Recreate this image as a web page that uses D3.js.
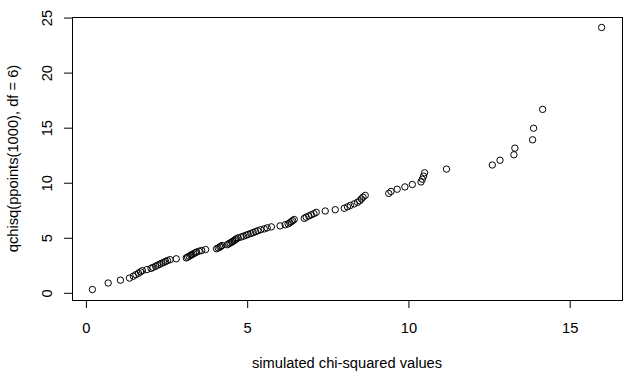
<!DOCTYPE html>
<html>
<head>
<meta charset="utf-8">
<script src="https://cdn.jsdelivr.net/npm/d3@7"></script>
<style>
  body { margin: 0; background: #fff; }
  text { font-family: "Liberation Sans", Arial, sans-serif; fill: #000; }
</style>
</head>
<body>
<div id="plot"></div>
<script>
// sorted simulated values (x) against qchisq(ppoints(1000), df = 6) (y)
var simulated = [
  0.20, 0.69, 1.07, 1.35, 1.47, 1.55, 1.63, 1.69, 1.75, 1.89,
  2.02, 2.08, 2.16, 2.22, 2.28, 2.34, 2.41, 2.47, 2.53, 2.61,
  2.80, 3.11, 3.15, 3.20, 3.25, 3.29, 3.34, 3.39, 3.43, 3.51,
  3.59, 3.71, 4.05, 4.10, 4.15, 4.18, 4.22, 4.38, 4.43, 4.47,
  4.52, 4.55, 4.60, 4.63, 4.67, 4.72, 4.81, 4.89, 4.97, 5.03,
  5.11, 5.19, 5.26, 5.33, 5.42, 5.53, 5.62, 5.75, 6.02, 6.18,
  6.27, 6.32, 6.37, 6.41, 6.46, 6.77, 6.83, 6.91, 6.99, 7.07,
  7.14, 7.42, 7.73, 8.01, 8.11, 8.20, 8.32, 8.42, 8.49, 8.54,
  8.59, 8.66, 9.39, 9.46, 9.65, 9.89, 10.12, 10.39, 10.43, 10.47,
  10.50, 11.18, 12.60, 12.84, 13.27, 13.30, 13.85, 13.88, 14.16, 15.99
];
var theoretical = [
  0.30, 0.89, 1.15, 1.34, 1.51, 1.65, 1.78, 1.90, 2.01, 2.11,
  2.22, 2.31, 2.41, 2.50, 2.59, 2.68, 2.76, 2.85, 2.93, 3.01,
  3.09, 3.17, 3.24, 3.32, 3.40, 3.48, 3.55, 3.63, 3.70, 3.78,
  3.85, 3.93, 4.00, 4.08, 4.15, 4.22, 4.30, 4.37, 4.45, 4.53,
  4.60, 4.68, 4.75, 4.83, 4.91, 4.99, 5.07, 5.15, 5.23, 5.31,
  5.39, 5.47, 5.56, 5.64, 5.73, 5.81, 5.90, 5.99, 6.08, 6.18,
  6.27, 6.36, 6.46, 6.56, 6.66, 6.76, 6.87, 6.98, 7.09, 7.19,
  7.31, 7.43, 7.55, 7.68, 7.81, 7.94, 8.08, 8.22, 8.37, 8.53,
  8.69, 8.85, 9.03, 9.21, 9.41, 9.62, 9.84, 10.07, 10.32, 10.60,
  10.90, 11.24, 11.61, 12.04, 12.54, 13.14, 13.90, 14.95, 16.66, 24.10
];
var xTicks = [0, 5, 10, 15];
var yTicks = [0, 5, 10, 15, 20, 25];

var width = 637, height = 386;
var margin = {top: 17, right: 15, bottom: 86, left: 72};
var plotW = width - margin.left - margin.right;
var plotH = height - margin.top - margin.bottom;

var svg = d3.select("#plot")
  .append("svg")
  .attr("width", width)
  .attr("height", height);

// R style limits: data range padded by 4% on each side
function padded(vals) {
  var ext = d3.extent(vals);
  var pad = (ext[1] - ext[0]) * 0.04;
  return [ext[0] - pad, ext[1] + pad];
}

var x = d3.scaleLinear().domain(padded(simulated)).range([0, plotW]);
var y = d3.scaleLinear().domain(padded(theoretical)).range([plotH, 0]);

var g = svg.append("g")
  .attr("transform", `translate(${margin.left}, ${margin.top})`);

// points
g.selectAll("circle")
  .data(simulated)
  .enter()
  .append("circle")
  .attr("cx", (d, i) => x(d))
  .attr("cy", (d, i) => y(theoretical[i]))
  .attr("r", 3.2)
  .attr("fill", "none")
  .attr("stroke", "#000")
  .attr("stroke-width", 1);

// box
g.append("rect")
  .attr("x", 0.5)
  .attr("y", 0.5)
  .attr("width", plotW)
  .attr("height", plotH)
  .attr("fill", "none")
  .attr("stroke", "#000");

// x axis
g.append("g")
  .attr("transform", `translate(0, ${plotH})`)
  .call(d3.axisBottom(x).tickValues(xTicks).tickSize(8).tickPadding(15).tickFormat(d3.format("d")))
  .call(ax => ax.select(".domain").remove())
  .call(ax => ax.selectAll("text").attr("font-size", "14.7px").attr("font-family", null))
  .call(ax => ax.selectAll("line").attr("stroke", "#000"));

// y axis, labels turned parallel to the axis
g.append("g")
  .call(d3.axisLeft(y).tickValues(yTicks).tickSize(8).tickFormat(d3.format("d")))
  .call(ax => ax.select(".domain").remove())
  .call(ax => ax.selectAll("line").attr("stroke", "#000"))
  .call(ax => ax.selectAll("text")
    .attr("x", null)
    .attr("dy", null)
    .attr("font-size", "14.7px")
    .attr("font-family", null)
    .attr("text-anchor", "middle")
    .attr("transform", "translate(-20, 0) rotate(-90)"));

// axis titles
svg.append("text")
  .attr("x", margin.left + plotW / 2)
  .attr("y", 368)
  .attr("text-anchor", "middle")
  .attr("font-size", "14.7px")
  .text("simulated chi-squared values");

svg.append("text")
  .attr("transform", `translate(18, ${margin.top + plotH / 2}) rotate(-90)`)
  .attr("text-anchor", "middle")
  .attr("font-size", "14.7px")
  .text("qchisq(ppoints(1000), df = 6)");
</script>
</body>
</html>
